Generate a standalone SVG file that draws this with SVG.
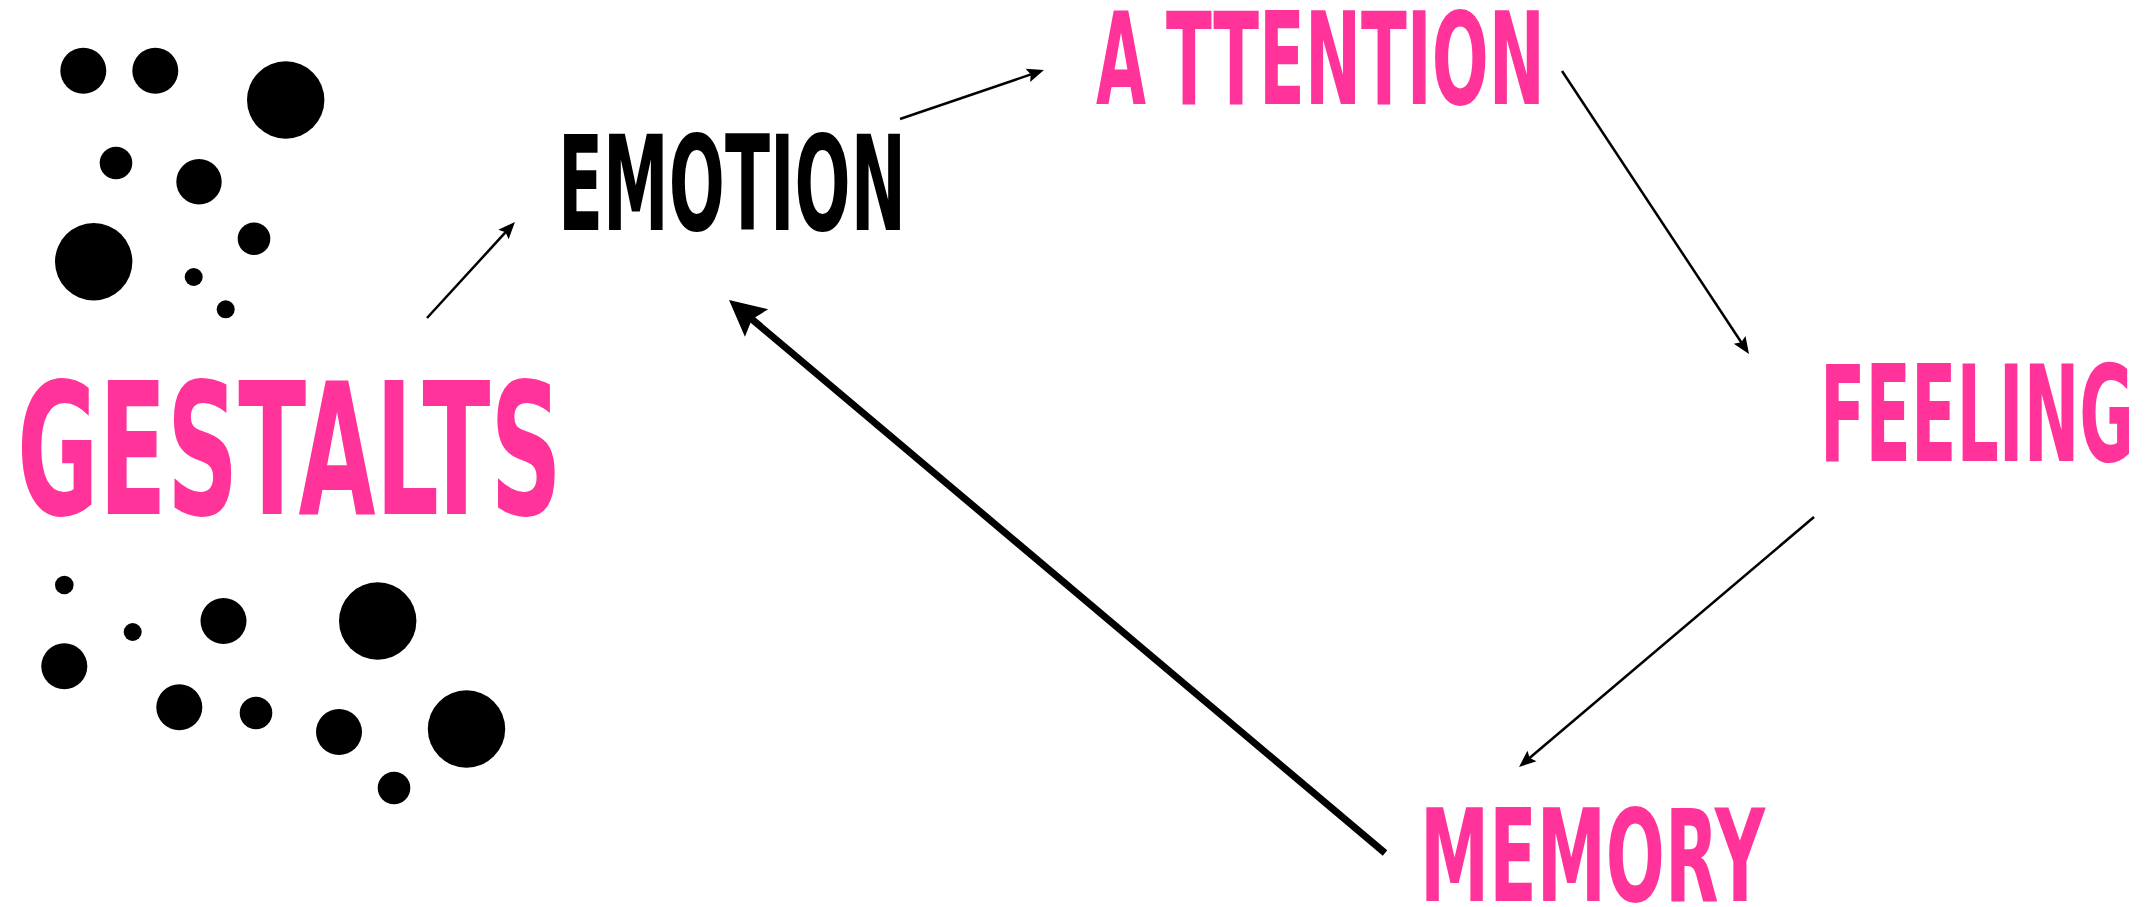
<svg xmlns="http://www.w3.org/2000/svg" width="2154" height="907" viewBox="0 0 2154 907">
<style>
  .bg { fill: #ffffff; }
  .dot { fill: #000000; }
  .lbl { font-family: "DejaVu Sans", "Liberation Sans", sans-serif; font-weight: bold; }
  .pink { fill: #ff3399; }
  .black { fill: #000000; }
  .thin { stroke: #000000; stroke-width: 2.5; fill: none; marker-end: url(#headThin); }
  .thick { stroke: #000000; stroke-width: 7; fill: none; marker-end: url(#headThick); }
</style>
<defs>
  <marker id="headThin" markerUnits="userSpaceOnUse" markerWidth="18" markerHeight="15" refX="11" refY="7" orient="auto" overflow="visible">
    <path d="M0,0 L17,7 L0,14 L3,7 Z" fill="#000000"/>
  </marker>
  <marker id="headThick" markerUnits="userSpaceOnUse" markerWidth="37" markerHeight="37" refX="16" refY="18" orient="auto" overflow="visible">
    <path d="M0,0 L36,18 L0,36 L6,18 Z" fill="#000000"/>
  </marker>
</defs>
<rect class="bg" x="0" y="0" width="2154" height="907"/>

<g id="dots-top">
  <circle class="dot" cx="83.3" cy="70.7" r="23"/>
  <circle class="dot" cx="155.3" cy="70.7" r="23"/>
  <circle class="dot" cx="285.7" cy="100" r="38.7"/>
  <circle class="dot" cx="116" cy="163" r="16.3"/>
  <circle class="dot" cx="199" cy="181.7" r="22.7"/>
  <circle class="dot" cx="93.7" cy="261.7" r="38.7"/>
  <circle class="dot" cx="254" cy="238.7" r="16.3"/>
  <circle class="dot" cx="193.7" cy="277" r="9"/>
  <circle class="dot" cx="225.7" cy="309.3" r="9"/>
</g>

<g id="dots-bottom">
  <circle class="dot" cx="64.3" cy="585" r="9.3"/>
  <circle class="dot" cx="132.7" cy="632" r="9"/>
  <circle class="dot" cx="223.5" cy="621" r="23"/>
  <circle class="dot" cx="377.7" cy="621" r="38.7"/>
  <circle class="dot" cx="64.3" cy="666.3" r="23"/>
  <circle class="dot" cx="179.3" cy="707.3" r="23"/>
  <circle class="dot" cx="256" cy="713" r="16.3"/>
  <circle class="dot" cx="339" cy="732" r="23"/>
  <circle class="dot" cx="394" cy="788" r="16.3"/>
  <circle class="dot" cx="466.5" cy="729" r="38.7"/>
</g>

<g id="node-gestalts">
  <text class="lbl pink" transform="translate(17,514) scale(1,1.934)" x="0" y="0" font-size="95" textLength="545" lengthAdjust="spacingAndGlyphs">GESTALTS</text>
</g>

<g id="node-emotion">
  <text class="lbl black" transform="translate(558,230) scale(1,1.98)" x="0" y="0" font-size="66.5" textLength="348" lengthAdjust="spacingAndGlyphs">EMOTION</text>
</g>

<g id="node-attention">
  <text class="lbl pink" transform="translate(1096,104) scale(1,1.905)" y="0" font-size="67"><tspan x="0" textLength="50" lengthAdjust="spacingAndGlyphs">A</tspan><tspan x="70" textLength="379" lengthAdjust="spacingAndGlyphs">TTENTION</tspan></text>
</g>

<g id="node-feeling">
  <text class="lbl pink" transform="translate(1820,461) scale(1,1.975)" x="0" y="0" font-size="67.4" textLength="314" lengthAdjust="spacingAndGlyphs">FEELING</text>
</g>

<g id="node-memory">
  <text class="lbl pink" transform="translate(1420,901) scale(1,1.843)" x="0" y="0" font-size="69.9" textLength="345" lengthAdjust="spacingAndGlyphs">MEMORY</text>
</g>

<g id="connectors">
  <line class="thin" x1="427" y1="318" x2="510.9" y2="226.4"/>
  <line class="thin" x1="900" y1="119" x2="1038.3" y2="71.9"/>
  <line class="thin" x1="1562" y1="71" x2="1745.7" y2="349"/>
  <line class="thin" x1="1814" y1="517" x2="1523.6" y2="763.1"/>
  <line class="thick" x1="1385" y1="853" x2="744.3" y2="312.8"/>
</g>
</svg>
